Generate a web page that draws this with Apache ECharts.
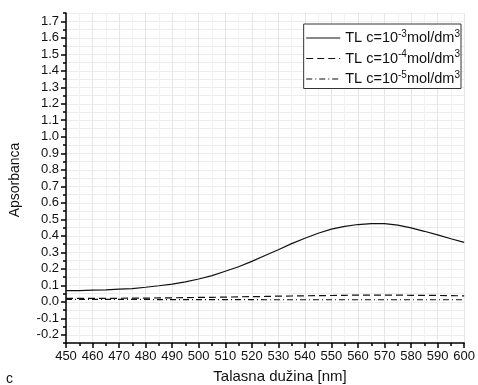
<!DOCTYPE html>
<html><head><meta charset="utf-8">
<script src="https://cdn.jsdelivr.net/npm/echarts@6/dist/echarts.min.js"></script>
<style>html,body{margin:0;padding:0;background:#fff}#c{width:478px;height:385px}</style>
</head><body><div id="c"></div>
<script>
const wavelengths = [450,455,460,465,470,475,480,485,490,495,500,505,510,515,520,525,530,535,540,545,550,555,560,565,570,575,580,585,590,595,600];
const c1e3 = [0.067,0.068,0.070,0.072,0.076,0.080,0.088,0.097,0.107,0.120,0.138,0.158,0.185,0.212,0.245,0.280,0.315,0.352,0.385,0.415,0.440,0.457,0.468,0.474,0.474,0.464,0.448,0.427,0.405,0.382,0.360];
const c1e4 = [0.020,0.020,0.020,0.021,0.021,0.022,0.022,0.023,0.024,0.025,0.026,0.027,0.028,0.030,0.031,0.032,0.034,0.035,0.036,0.037,0.038,0.039,0.040,0.040,0.040,0.040,0.039,0.039,0.038,0.037,0.036];
const c1e5 = [0.015,0.015,0.014,0.014,0.014,0.014,0.014,0.013,0.013,0.013,0.013,0.013,0.013,0.013,0.013,0.012,0.012,0.012,0.012,0.012,0.012,0.012,0.012,0.012,0.012,0.012,0.012,0.012,0.012,0.012,0.012];
const seriesNames = ['TL c=10{s|-3}mol/dm{s|3}','TL c=10{s|-4}mol/dm{s|3}','TL c=10{s|-5}mol/dm{s|3}'];
const yTicks = [-0.2,-0.1,0.0,0.1,0.2,0.3,0.4,0.5,0.6,0.7,0.8,0.9,1.0,1.1,1.2,1.3,1.4,1.5,1.6,1.7];
const FONT = 'Liberation Sans, Arial, sans-serif';

const chart = echarts.init(document.getElementById('c'), null, {renderer:'canvas'});
const zip = (ys) => wavelengths.map((x,i)=>[x, ys[i]]);
chart.setOption({
  animation:false,
  backgroundColor:'#fff',
  textStyle:{fontFamily:FONT},
  grid:{left:66,right:8,top:13,bottom:42},
  legend:{
    show:true, right:17, top:24, orient:'vertical', itemGap:4, itemWidth:34, itemHeight:14,
    itemStyle:{color:'rgba(0,0,0,0)',borderColor:'rgba(0,0,0,0)',borderWidth:0},
    lineStyle:{width:1.1},
    borderColor:'#333', borderWidth:1, padding:[5,1,2,2], backgroundColor:'#fff',
    textStyle:{fontFamily:FONT,fontSize:14.5,color:'#111',rich:{s:{fontSize:10,verticalAlign:'top',padding:[0,0,8,0],fontFamily:FONT,color:'#111'}}},
    data:seriesNames
  },
  xAxis:{type:'value',min:450,max:600,interval:10,
    axisLine:{show:true,onZero:false,lineStyle:{color:'#000',width:1.5}},
    axisTick:{show:true,length:5,lineStyle:{color:'#000',width:1.5}},
    minorTick:{show:true,splitNumber:2,length:3,lineStyle:{color:'#000',width:1.5}},
    axisLabel:{color:'#111',fontSize:13,margin:7,fontFamily:FONT},
    splitLine:{show:true,lineStyle:{color:'#e6e6e6',width:1}},
    minorSplitLine:{show:true,lineStyle:{color:'#f2f2f2',width:1}}
  },
  yAxis:[
    {type:'value',min:-0.25,max:1.75,
      axisLine:{show:true,onZero:false,lineStyle:{color:'#000',width:1.5}},
      axisTick:{show:true,length:5,customValues:yTicks,lineStyle:{color:'#000',width:1.5}},
      axisLabel:{customValues:yTicks,color:'#111',fontSize:13,margin:7,fontFamily:FONT,formatter:v=>v.toFixed(1)},
      splitLine:{show:false}
    },
    {type:'value',min:-0.25,max:1.75,interval:0.05,position:'left',
      axisLine:{show:false},
      axisTick:{show:true,length:3,lineStyle:{color:'#000',width:1.5}},
      axisLabel:{show:false},
      splitLine:{show:true,lineStyle:{color:'#ececec',width:1}}
    }
  ],
  series:[
    {name:seriesNames[0],type:'line',data:zip(c1e3),showSymbol:false,symbol:'none',z:5,
      lineStyle:{color:'#111',width:1.2,type:'solid'},itemStyle:{color:'#111'}},
    {name:seriesNames[1],type:'line',data:zip(c1e4),showSymbol:false,symbol:'none',z:4,
      lineStyle:{color:'#111',width:1.2,type:[7,4]},itemStyle:{color:'#111'}},
    {name:seriesNames[2],type:'line',data:zip(c1e5),showSymbol:false,symbol:'none',z:3,
      lineStyle:{color:'#111',width:1.2,type:[6,3,1,3]},itemStyle:{color:'#111'}}
  ],
  graphic:[
    {type:'text',left:6,top:372,style:{text:'c',fontSize:14,fill:'#111',fontFamily:FONT}},
    {type:'text',x:280,y:377,style:{text:'Talasna dužina [nm]',fontSize:15,fill:'#111',fontFamily:FONT,align:'center',verticalAlign:'middle'}},
    {type:'text',x:15,y:180,rotation:Math.PI/2,style:{text:'Apsorbanca',fontSize:14,fill:'#111',fontFamily:FONT,align:'center',verticalAlign:'middle'}}
  ]
});
</script></body></html>
